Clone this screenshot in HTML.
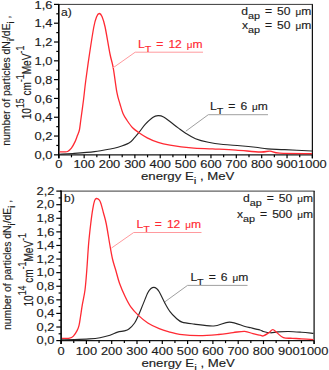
<!DOCTYPE html><html><head><meta charset="utf-8"><style>
html,body{margin:0;padding:0;background:#fff;width:329px;height:370px;overflow:hidden}
svg{display:block}
.t{font-family:"Liberation Sans",sans-serif;font-size:11px;fill:#1c1c1c;stroke:#1c1c1c;stroke-width:0.15}
.w{word-spacing:1.5px}
.s{font-size:9.8px}
.s2{font-size:9.5px}
.mu{font-size:9px}
.r{fill:#ff2a33;stroke:#ff2a33}
</style></head><body>
<svg width="329" height="370" viewBox="0 0 329 370">
<path d="M58.0 4.4H313.0" stroke="#3a3a3a" stroke-width="1.0"/>
<path d="M312.4 4.4V158.35" stroke="#111" stroke-width="1.25"/>
<path d="M58.8 154.85H312.4" stroke="#141414" stroke-width="1.45"/>
<path d="M58.8 3.9000000000000004V158.35" stroke="#000" stroke-width="1.6"/>
<path d="M54.0 154.85H58.8" stroke="#000" stroke-width="1.2"/>
<text transform="translate(52.50 158.95) scale(1.17 1)" text-anchor="end" class="t">0,0</text>
<path d="M56.3 145.45H58.8" stroke="#000" stroke-width="1.2"/>
<path d="M54.0 136.04H58.8" stroke="#000" stroke-width="1.2"/>
<text transform="translate(52.50 140.14) scale(1.17 1)" text-anchor="end" class="t">0,2</text>
<path d="M56.3 126.64H58.8" stroke="#000" stroke-width="1.2"/>
<path d="M54.0 117.24H58.8" stroke="#000" stroke-width="1.2"/>
<text transform="translate(52.50 121.34) scale(1.17 1)" text-anchor="end" class="t">0,4</text>
<path d="M56.3 107.83H58.8" stroke="#000" stroke-width="1.2"/>
<path d="M54.0 98.43H58.8" stroke="#000" stroke-width="1.2"/>
<text transform="translate(52.50 102.53) scale(1.17 1)" text-anchor="end" class="t">0,6</text>
<path d="M56.3 89.03H58.8" stroke="#000" stroke-width="1.2"/>
<path d="M54.0 79.62H58.8" stroke="#000" stroke-width="1.2"/>
<text transform="translate(52.50 83.72) scale(1.17 1)" text-anchor="end" class="t">0,8</text>
<path d="M56.3 70.22H58.8" stroke="#000" stroke-width="1.2"/>
<path d="M54.0 60.82H58.8" stroke="#000" stroke-width="1.2"/>
<text transform="translate(52.50 64.92) scale(1.17 1)" text-anchor="end" class="t">1,0</text>
<path d="M56.3 51.42H58.8" stroke="#000" stroke-width="1.2"/>
<path d="M54.0 42.01H58.8" stroke="#000" stroke-width="1.2"/>
<text transform="translate(52.50 46.11) scale(1.17 1)" text-anchor="end" class="t">1,2</text>
<path d="M56.3 32.61H58.8" stroke="#000" stroke-width="1.2"/>
<path d="M54.0 23.21H58.8" stroke="#000" stroke-width="1.2"/>
<text transform="translate(52.50 27.31) scale(1.17 1)" text-anchor="end" class="t">1,4</text>
<path d="M56.3 13.80H58.8" stroke="#000" stroke-width="1.2"/>
<path d="M54.0 4.40H58.8" stroke="#000" stroke-width="1.2"/>
<text transform="translate(52.50 8.50) scale(1.17 1)" text-anchor="end" class="t">1,6</text>
<path d="M58.80 154.85V158.35" stroke="#000" stroke-width="1.2"/>
<text transform="translate(58.80 168.20) scale(1.17 1)" text-anchor="middle" class="t">0</text>
<path d="M71.48 154.85V157.35" stroke="#000" stroke-width="1.2"/>
<path d="M84.16 154.85V158.35" stroke="#000" stroke-width="1.2"/>
<text transform="translate(84.16 168.20) scale(1.17 1)" text-anchor="middle" class="t">100</text>
<path d="M96.84 154.85V157.35" stroke="#000" stroke-width="1.2"/>
<path d="M109.52 154.85V158.35" stroke="#000" stroke-width="1.2"/>
<text transform="translate(109.52 168.20) scale(1.17 1)" text-anchor="middle" class="t">200</text>
<path d="M122.20 154.85V157.35" stroke="#000" stroke-width="1.2"/>
<path d="M134.88 154.85V158.35" stroke="#000" stroke-width="1.2"/>
<text transform="translate(134.88 168.20) scale(1.17 1)" text-anchor="middle" class="t">300</text>
<path d="M147.56 154.85V157.35" stroke="#000" stroke-width="1.2"/>
<path d="M160.24 154.85V158.35" stroke="#000" stroke-width="1.2"/>
<text transform="translate(160.24 168.20) scale(1.17 1)" text-anchor="middle" class="t">400</text>
<path d="M172.92 154.85V157.35" stroke="#000" stroke-width="1.2"/>
<path d="M185.60 154.85V158.35" stroke="#000" stroke-width="1.2"/>
<text transform="translate(185.60 168.20) scale(1.17 1)" text-anchor="middle" class="t">500</text>
<path d="M198.28 154.85V157.35" stroke="#000" stroke-width="1.2"/>
<path d="M210.96 154.85V158.35" stroke="#000" stroke-width="1.2"/>
<text transform="translate(210.96 168.20) scale(1.17 1)" text-anchor="middle" class="t">600</text>
<path d="M223.64 154.85V157.35" stroke="#000" stroke-width="1.2"/>
<path d="M236.32 154.85V158.35" stroke="#000" stroke-width="1.2"/>
<text transform="translate(236.32 168.20) scale(1.17 1)" text-anchor="middle" class="t">700</text>
<path d="M249.00 154.85V157.35" stroke="#000" stroke-width="1.2"/>
<path d="M261.68 154.85V158.35" stroke="#000" stroke-width="1.2"/>
<text transform="translate(261.68 168.20) scale(1.17 1)" text-anchor="middle" class="t">800</text>
<path d="M274.36 154.85V157.35" stroke="#000" stroke-width="1.2"/>
<path d="M287.04 154.85V158.35" stroke="#000" stroke-width="1.2"/>
<text transform="translate(287.04 168.20) scale(1.17 1)" text-anchor="middle" class="t">900</text>
<path d="M299.72 154.85V157.35" stroke="#000" stroke-width="1.2"/>
<path d="M312.40 154.85V158.35" stroke="#000" stroke-width="1.2"/>
<text transform="translate(312.40 168.20) scale(1.17 1)" text-anchor="middle" class="t">1000</text>
<path d="M60.300000000000004 191.1H314.70000000000005" stroke="#3a3a3a" stroke-width="1.0"/>
<path d="M314.1 191.1V344.1" stroke="#111" stroke-width="1.25"/>
<path d="M61.1 340.6H314.1" stroke="#141414" stroke-width="1.45"/>
<path d="M61.1 190.6V344.1" stroke="#000" stroke-width="1.6"/>
<path d="M56.300000000000004 340.60H61.1" stroke="#000" stroke-width="1.2"/>
<text transform="translate(54.40 344.30) scale(1.17 1)" text-anchor="end" class="t">0,0</text>
<path d="M58.6 333.80H61.1" stroke="#000" stroke-width="1.2"/>
<path d="M56.300000000000004 327.01H61.1" stroke="#000" stroke-width="1.2"/>
<text transform="translate(54.40 330.71) scale(1.17 1)" text-anchor="end" class="t">0,2</text>
<path d="M58.6 320.21H61.1" stroke="#000" stroke-width="1.2"/>
<path d="M56.300000000000004 313.42H61.1" stroke="#000" stroke-width="1.2"/>
<text transform="translate(54.40 317.12) scale(1.17 1)" text-anchor="end" class="t">0,4</text>
<path d="M58.6 306.62H61.1" stroke="#000" stroke-width="1.2"/>
<path d="M56.300000000000004 299.83H61.1" stroke="#000" stroke-width="1.2"/>
<text transform="translate(54.40 303.53) scale(1.17 1)" text-anchor="end" class="t">0,6</text>
<path d="M58.6 293.03H61.1" stroke="#000" stroke-width="1.2"/>
<path d="M56.300000000000004 286.24H61.1" stroke="#000" stroke-width="1.2"/>
<text transform="translate(54.40 289.94) scale(1.17 1)" text-anchor="end" class="t">0,8</text>
<path d="M58.6 279.44H61.1" stroke="#000" stroke-width="1.2"/>
<path d="M56.300000000000004 272.65H61.1" stroke="#000" stroke-width="1.2"/>
<text transform="translate(54.40 276.35) scale(1.17 1)" text-anchor="end" class="t">1,0</text>
<path d="M58.6 265.85H61.1" stroke="#000" stroke-width="1.2"/>
<path d="M56.300000000000004 259.05H61.1" stroke="#000" stroke-width="1.2"/>
<text transform="translate(54.40 262.75) scale(1.17 1)" text-anchor="end" class="t">1,2</text>
<path d="M58.6 252.26H61.1" stroke="#000" stroke-width="1.2"/>
<path d="M56.300000000000004 245.46H61.1" stroke="#000" stroke-width="1.2"/>
<text transform="translate(54.40 249.16) scale(1.17 1)" text-anchor="end" class="t">1,4</text>
<path d="M58.6 238.67H61.1" stroke="#000" stroke-width="1.2"/>
<path d="M56.300000000000004 231.87H61.1" stroke="#000" stroke-width="1.2"/>
<text transform="translate(54.40 235.57) scale(1.17 1)" text-anchor="end" class="t">1,6</text>
<path d="M58.6 225.08H61.1" stroke="#000" stroke-width="1.2"/>
<path d="M56.300000000000004 218.28H61.1" stroke="#000" stroke-width="1.2"/>
<text transform="translate(54.40 221.98) scale(1.17 1)" text-anchor="end" class="t">1,8</text>
<path d="M58.6 211.49H61.1" stroke="#000" stroke-width="1.2"/>
<path d="M56.300000000000004 204.69H61.1" stroke="#000" stroke-width="1.2"/>
<text transform="translate(54.40 208.39) scale(1.17 1)" text-anchor="end" class="t">2,0</text>
<path d="M58.6 197.90H61.1" stroke="#000" stroke-width="1.2"/>
<path d="M56.300000000000004 191.10H61.1" stroke="#000" stroke-width="1.2"/>
<text transform="translate(54.40 194.80) scale(1.17 1)" text-anchor="end" class="t">2,2</text>
<path d="M61.10 340.6V344.1" stroke="#000" stroke-width="1.2"/>
<text transform="translate(61.10 354.60) scale(1.17 1)" text-anchor="middle" class="t">0</text>
<path d="M73.75 340.6V343.1" stroke="#000" stroke-width="1.2"/>
<path d="M86.40 340.6V344.1" stroke="#000" stroke-width="1.2"/>
<text transform="translate(86.40 354.60) scale(1.17 1)" text-anchor="middle" class="t">100</text>
<path d="M99.05 340.6V343.1" stroke="#000" stroke-width="1.2"/>
<path d="M111.70 340.6V344.1" stroke="#000" stroke-width="1.2"/>
<text transform="translate(111.70 354.60) scale(1.17 1)" text-anchor="middle" class="t">200</text>
<path d="M124.35 340.6V343.1" stroke="#000" stroke-width="1.2"/>
<path d="M137.00 340.6V344.1" stroke="#000" stroke-width="1.2"/>
<text transform="translate(137.00 354.60) scale(1.17 1)" text-anchor="middle" class="t">300</text>
<path d="M149.65 340.6V343.1" stroke="#000" stroke-width="1.2"/>
<path d="M162.30 340.6V344.1" stroke="#000" stroke-width="1.2"/>
<text transform="translate(162.30 354.60) scale(1.17 1)" text-anchor="middle" class="t">400</text>
<path d="M174.95 340.6V343.1" stroke="#000" stroke-width="1.2"/>
<path d="M187.60 340.6V344.1" stroke="#000" stroke-width="1.2"/>
<text transform="translate(187.60 354.60) scale(1.17 1)" text-anchor="middle" class="t">500</text>
<path d="M200.25 340.6V343.1" stroke="#000" stroke-width="1.2"/>
<path d="M212.90 340.6V344.1" stroke="#000" stroke-width="1.2"/>
<text transform="translate(212.90 354.60) scale(1.17 1)" text-anchor="middle" class="t">600</text>
<path d="M225.55 340.6V343.1" stroke="#000" stroke-width="1.2"/>
<path d="M238.20 340.6V344.1" stroke="#000" stroke-width="1.2"/>
<text transform="translate(238.20 354.60) scale(1.17 1)" text-anchor="middle" class="t">700</text>
<path d="M250.85 340.6V343.1" stroke="#000" stroke-width="1.2"/>
<path d="M263.50 340.6V344.1" stroke="#000" stroke-width="1.2"/>
<text transform="translate(263.50 354.60) scale(1.17 1)" text-anchor="middle" class="t">800</text>
<path d="M276.15 340.6V343.1" stroke="#000" stroke-width="1.2"/>
<path d="M288.80 340.6V344.1" stroke="#000" stroke-width="1.2"/>
<text transform="translate(288.80 354.60) scale(1.17 1)" text-anchor="middle" class="t">900</text>
<path d="M301.45 340.6V343.1" stroke="#000" stroke-width="1.2"/>
<path d="M314.10 340.6V344.1" stroke="#000" stroke-width="1.2"/>
<text transform="translate(314.10 354.60) scale(1.17 1)" text-anchor="middle" class="t">1000</text>
<path d="M59.50 154.20 C61.68 154.08 66.77 153.93 72.60 153.50 C78.43 153.07 88.02 152.40 94.50 151.60 C100.98 150.80 107.58 149.42 111.50 148.70 C115.42 147.98 115.08 148.25 118.00 147.30 C120.92 146.35 126.27 144.58 129.00 143.00 C131.73 141.42 132.73 139.57 134.40 137.80 C136.07 136.03 137.17 134.67 139.00 132.40 C140.83 130.13 143.12 126.70 145.40 124.20 C147.68 121.70 150.58 118.83 152.70 117.40 C154.82 115.97 156.28 115.68 158.10 115.60 C159.92 115.52 161.47 115.78 163.60 116.90 C165.73 118.02 168.42 120.43 170.90 122.30 C173.38 124.17 175.98 126.25 178.50 128.10 C181.02 129.95 183.17 131.63 186.00 133.40 C188.83 135.17 191.78 137.22 195.50 138.70 C199.22 140.18 203.68 141.33 208.30 142.30 C212.92 143.27 217.92 143.93 223.20 144.50 C228.48 145.07 234.62 145.25 240.00 145.70 C245.38 146.15 250.90 146.67 255.50 147.20 C260.10 147.73 262.73 148.50 267.60 148.90 C272.47 149.30 277.30 149.25 284.70 149.60 C292.10 149.95 307.45 150.77 312.00 151.00" fill="none" stroke="#262626" stroke-width="1.15" stroke-linejoin="round"/>
<path d="M62.00 339.80 C64.10 339.77 70.07 339.75 74.60 339.60 C79.13 339.45 84.97 339.22 89.20 338.90 C93.43 338.58 96.53 338.30 100.00 337.70 C103.47 337.10 107.07 336.23 110.00 335.30 C112.93 334.37 115.23 332.83 117.60 332.10 C119.97 331.37 122.32 331.42 124.20 330.90 C126.08 330.38 127.17 330.32 128.90 329.00 C130.63 327.68 133.02 325.27 134.60 323.00 C136.18 320.73 136.98 318.55 138.40 315.40 C139.82 312.25 141.53 307.88 143.10 304.10 C144.67 300.32 146.48 295.30 147.80 292.70 C149.12 290.10 149.98 289.38 151.00 288.50 C152.02 287.62 152.98 287.40 153.90 287.40 C154.82 287.40 155.62 287.77 156.50 288.50 C157.38 289.23 157.80 289.37 159.20 291.80 C160.60 294.23 163.10 299.80 164.90 303.10 C166.70 306.40 168.15 309.12 170.00 311.60 C171.85 314.08 174.00 316.25 176.00 318.00 C178.00 319.75 178.97 321.08 182.00 322.10 C185.03 323.12 188.92 323.45 194.20 324.10 C199.48 324.75 207.82 326.33 213.70 326.00 C219.58 325.67 224.28 322.02 229.50 322.10 C234.72 322.18 241.42 325.55 245.00 326.50 C248.58 327.45 248.50 327.22 251.00 327.80 C253.50 328.38 257.95 329.38 260.00 330.00 C262.05 330.62 261.53 331.03 263.30 331.50 C265.07 331.97 268.17 332.73 270.60 332.80 C273.03 332.87 274.87 332.12 277.90 331.90 C280.93 331.68 284.85 331.43 288.80 331.50 C292.75 331.57 297.48 331.98 301.60 332.30 C305.72 332.62 311.52 333.22 313.50 333.40" fill="none" stroke="#262626" stroke-width="1.15" stroke-linejoin="round"/>
<path d="M59.50 151.90 C60.25 151.90 62.65 151.97 64.00 151.90 C65.35 151.83 66.37 152.12 67.60 151.50 C68.83 150.88 70.13 149.88 71.40 148.20 C72.67 146.52 74.18 143.55 75.20 141.40 C76.22 139.25 76.80 137.20 77.50 135.30 C78.20 133.40 78.85 132.55 79.40 130.00 C79.95 127.45 80.12 125.00 80.80 120.00 C81.48 115.00 82.68 106.50 83.50 100.00 C84.32 93.50 84.70 88.67 85.70 81.00 C86.70 73.33 88.15 63.00 89.50 54.00 C90.85 45.00 92.63 33.17 93.80 27.00 C94.97 20.83 95.60 19.25 96.50 17.00 C97.40 14.75 98.28 13.58 99.20 13.50 C100.12 13.42 101.02 14.25 102.00 16.50 C102.98 18.75 103.77 20.75 105.10 27.00 C106.43 33.25 108.65 47.23 110.00 54.00 C111.35 60.77 112.05 61.20 113.20 67.60 C114.35 74.00 115.77 86.33 116.90 92.40 C118.03 98.47 118.98 100.48 120.00 104.00 C121.02 107.52 121.82 110.75 123.00 113.50 C124.18 116.25 125.50 118.12 127.10 120.50 C128.70 122.88 130.62 125.77 132.60 127.80 C134.58 129.83 136.57 131.03 139.00 132.70 C141.43 134.37 144.02 136.18 147.20 137.80 C150.38 139.42 154.30 141.18 158.10 142.40 C161.90 143.62 164.47 144.18 170.00 145.10 C175.53 146.02 184.20 147.27 191.30 147.90 C198.40 148.53 205.15 148.53 212.60 148.90 C220.05 149.27 228.05 149.58 236.00 150.10 C243.95 150.62 254.63 151.82 260.30 152.00 C265.97 152.18 266.75 151.00 270.00 151.20 C273.25 151.40 272.80 152.78 279.80 153.20 C286.80 153.62 306.63 153.62 312.00 153.70" fill="none" stroke="#ff2a33" stroke-width="1.3" stroke-linejoin="round"/>
<path d="M62.00 338.30 C63.27 338.28 67.70 338.57 69.60 338.20 C71.50 337.83 72.13 337.40 73.40 336.10 C74.67 334.80 76.25 332.23 77.20 330.40 C78.15 328.57 78.53 327.50 79.10 325.10 C79.67 322.70 80.07 319.37 80.60 316.00 C81.13 312.63 81.57 309.23 82.30 304.90 C83.03 300.57 84.25 295.82 85.00 290.00 C85.75 284.18 86.20 277.67 86.80 270.00 C87.40 262.33 87.95 251.67 88.60 244.00 C89.25 236.33 90.02 229.78 90.70 224.00 C91.38 218.22 92.05 213.20 92.70 209.30 C93.35 205.40 93.98 202.40 94.60 200.60 C95.22 198.80 95.60 198.57 96.40 198.50 C97.20 198.43 98.62 199.27 99.40 200.20 C100.18 201.13 100.42 201.97 101.10 204.10 C101.78 206.23 102.63 209.68 103.50 213.00 C104.37 216.32 105.27 218.83 106.30 224.00 C107.33 229.17 108.67 238.17 109.70 244.00 C110.73 249.83 111.50 254.67 112.50 259.00 C113.50 263.33 114.53 265.97 115.70 270.00 C116.87 274.03 117.93 278.78 119.50 283.20 C121.07 287.62 123.22 292.55 125.10 296.50 C126.98 300.45 128.58 303.75 130.80 306.90 C133.02 310.05 135.57 312.72 138.40 315.40 C141.23 318.08 144.33 320.78 147.80 323.00 C151.27 325.22 155.50 327.18 159.20 328.70 C162.90 330.22 166.60 331.17 170.00 332.10 C173.40 333.03 174.77 333.70 179.60 334.30 C184.43 334.90 192.52 335.67 199.00 335.70 C205.48 335.73 212.82 335.02 218.50 334.50 C224.18 333.98 228.73 333.13 233.10 332.60 C237.47 332.07 241.40 331.12 244.70 331.30 C248.00 331.48 250.35 333.05 252.90 333.70 C255.45 334.35 258.27 334.83 260.00 335.20 C261.73 335.57 261.83 336.30 263.30 335.90 C264.77 335.50 267.22 333.83 268.80 332.80 C270.38 331.77 271.43 329.70 272.80 329.70 C274.17 329.70 275.23 331.47 277.00 332.80 C278.77 334.13 280.82 336.78 283.40 337.70 C285.98 338.62 289.47 338.12 292.50 338.30 C295.53 338.48 298.10 338.57 301.60 338.80 C305.10 339.03 311.52 339.55 313.50 339.70" fill="none" stroke="#ff2a33" stroke-width="1.3" stroke-linejoin="round"/>
<text transform="translate(61.00 15.50) scale(1.1 1)" text-anchor="start" class="t w">a)</text>
<text transform="translate(64.00 202.00) scale(1.1 1)" text-anchor="start" class="t w">b)</text>
<path d="M112.8 68L135.2 52.2H203" fill="none" stroke="#ff9a9e" stroke-width="1"/>
<text transform="translate(138.00 47.50) scale(1.1 1)" text-anchor="start" class="t w r">L<tspan class="s" dy="4.2">T</tspan><tspan dy="-4.2"> = 12 <tspan class="mu">μ</tspan>m</tspan></text>
<path d="M185.8 131.2L208.3 114.7H268" fill="none" stroke="#a0a0a0" stroke-width="1"/>
<text transform="translate(210.00 110.00) scale(1.1 1)" text-anchor="start" class="t w">L<tspan class="s" dy="4.2">T</tspan><tspan dy="-4.2"> = 6 <tspan class="mu">μ</tspan>m</tspan></text>
<text transform="translate(311.30 14.60) scale(1.1 1)" text-anchor="end" class="t w">d<tspan class="s" dy="4.2">ap</tspan><tspan dy="-4.2"> = 50 <tspan class="mu">μ</tspan>m</tspan></text>
<text transform="translate(311.30 28.50) scale(1.1 1)" text-anchor="end" class="t w">x<tspan class="s" dy="4.2">ap</tspan><tspan dy="-4.2"> = 50 <tspan class="mu">μ</tspan>m</tspan></text>
<text transform="translate(141.00 180.00) scale(1.2 1)" text-anchor="start" class="t">energy E<tspan class="s" dy="4.2">i</tspan><tspan dy="-4.2"> , MeV</tspan></text>
<path d="M111.4 248.1L133.7 232.5H201.5" fill="none" stroke="#ff9a9e" stroke-width="1"/>
<text transform="translate(136.50 227.50) scale(1.1 1)" text-anchor="start" class="t w r">L<tspan class="s" dy="4.2">T</tspan><tspan dy="-4.2"> = 12 <tspan class="mu">μ</tspan>m</tspan></text>
<path d="M164.9 301.8L187.5 285.4H247.5" fill="none" stroke="#a0a0a0" stroke-width="1"/>
<text transform="translate(190.40 280.50) scale(1.1 1)" text-anchor="start" class="t w">L<tspan class="s" dy="4.2">T</tspan><tspan dy="-4.2"> = 6 <tspan class="mu">μ</tspan>m</tspan></text>
<text transform="translate(313.10 201.70) scale(1.1 1)" text-anchor="end" class="t w">d<tspan class="s" dy="4.2">ap</tspan><tspan dy="-4.2"> = 50 <tspan class="mu">μ</tspan>m</tspan></text>
<text transform="translate(313.10 217.80) scale(1.1 1)" text-anchor="end" class="t w">x<tspan class="s" dy="4.2">ap</tspan><tspan dy="-4.2"> = 500 <tspan class="mu">μ</tspan>m</tspan></text>
<text transform="translate(141.40 366.70) scale(1.2 1)" text-anchor="start" class="t">energy E<tspan class="s" dy="4.2">i</tspan><tspan dy="-4.2"> , MeV</tspan></text>
<g transform="translate(10.3 145.8) rotate(-90) scale(0.947)"><text class="t">number of particles dN<tspan class="s" dy="4.2">i</tspan><tspan dy="-4.2">/dE</tspan><tspan class="s" dy="4.2">i</tspan><tspan dy="-4.2"> ,</tspan></text></g>
<g transform="translate(30.5 119.3) rotate(-90) scale(0.92 1.08)"><text class="t">10<tspan class="s2" dy="-6.3">15</tspan><tspan dy="6.3"> cm</tspan><tspan class="s2" dy="-6.3">-1</tspan><tspan dy="6.3">MeV</tspan><tspan class="s2" dy="-6.3">-1</tspan><tspan dy="6.3"></tspan></text></g>
<g transform="translate(11.3 330.1) rotate(-90) scale(0.947)"><text class="t">number of particles dN<tspan class="s" dy="4.2">i</tspan><tspan dy="-4.2">/dE</tspan><tspan class="s" dy="4.2">i</tspan><tspan dy="-4.2"> ,</tspan></text></g>
<g transform="translate(32.5 306.6) rotate(-90) scale(0.92 1.08)"><text class="t">10<tspan class="s2" dy="-6.3">14</tspan><tspan dy="6.3"> cm</tspan><tspan class="s2" dy="-6.3">-1</tspan><tspan dy="6.3">MeV</tspan><tspan class="s2" dy="-6.3">-1</tspan><tspan dy="6.3"></tspan></text></g>
</svg></body></html>
